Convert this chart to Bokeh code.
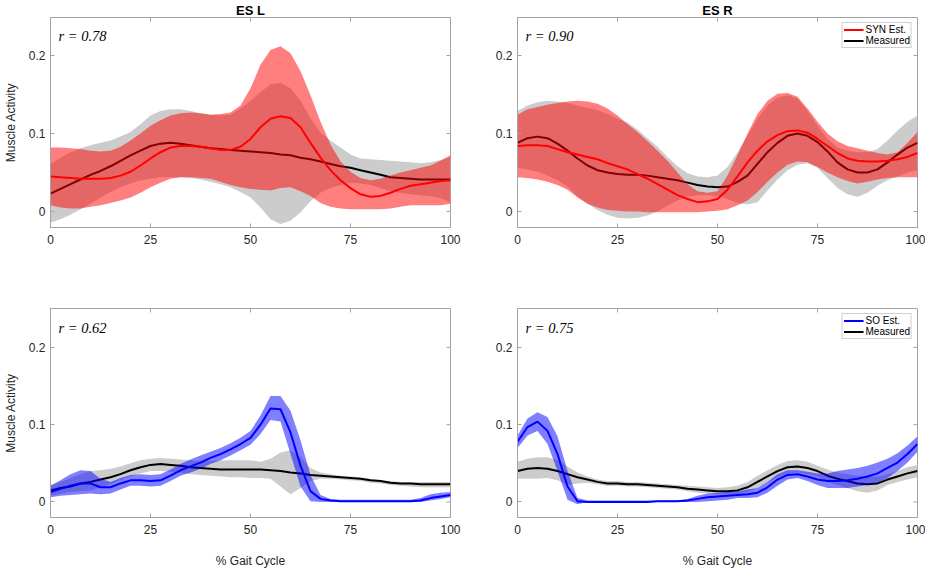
from bokeh.plotting import figure
from bokeh.models import Range1d, LinearAxis, FixedTicker, Label, Legend, LegendItem
from bokeh.layouts import column, row
from bokeh.embed import file_html
from bokeh.resources import INLINE

# ---------------- data ----------------
pct = [0, 2.5, 5, 7.5, 10, 12.5, 15, 17.5, 20, 22.5, 25, 27.5, 30, 32.5, 35, 37.5, 40,
       42.5, 45, 47.5, 50, 52.5, 55, 57.5, 60, 62.5, 65, 67.5, 70, 72.5, 75, 77.5, 80,
       82.5, 85, 87.5, 90, 92.5, 95, 97.5, 100]

x_ticks = [0, 25, 50, 75, 100]
y_ticks = [0, 0.1, 0.2]
y_tick_labels = ["0", "0.1", "0.2"]

panel_titles = ["ES L", "ES R"]
r_texts = ["r = 0.78", "r = 0.90", "r = 0.62", "r = 0.75"]
est_names = ["SYN Est.", "SO Est."]
meas_name = "Measured"

# ES L - synergy estimate
syn_l_mean = [.045, .044, .043, .042, .042, .042, .043, .046, .051, .059, .068, .076, .082, .084, .084, .083, .081,
              .079, .079, .083, .093, .108, .119, .122, .120, .108, .088, .069, .053, .040, .030, .022, .019,
              .020, .024, .029, .033, .035, .037, .039, .040]
syn_l_hi = [.082, .082, .081, .080, .078, .077, .078, .083, .091, .100, .110, .117, .123, .126, .127, .126, .124,
            .125, .127, .136, .158, .188, .207, .212, .203, .180, .149, .115, .086, .064, .051, .043, .040,
            .042, .046, .050, .053, .056, .059, .065, .072]
syn_l_lo = [.008, .005, .004, .004, .006, .008, .011, .014, .018, .024, .031, .037, .042, .044, .044, .043, .042,
            .038, .034, .031, .029, .028, .027, .030, .031, .026, .020, .011, .006, .004, .003, .003, .003,
            .003, .004, .006, .008, .008, .008, .008, .010]
# ES L - measured
meas_l_mean = [.023, .029, .035, .041, .047, .052, .058, .065, .072, .078, .084, .087, .088, .087, .085, .083, .081,
               .080, .079, .078, .077, .076, .075, .073, .072, .069, .067, .064, .061, .058, .056, .053, .050,
               .047, .044, .043, .042, .041, .041, .041, .041]
meas_l_hi = [.061, .069, .076, .081, .085, .088, .091, .096, .102, .112, .123, .129, .131, .131, .129, .126, .124,
             .123, .124, .132, .142, .153, .163, .165, .158, .142, .120, .101, .091, .082, .073, .068, .067,
             .066, .065, .064, .063, .062, .063, .066, .070]
meas_l_lo = [-.014, -.010, -.004, .003, .010, .018, .025, .031, .036, .040, .042, .044, .044, .044, .043, .041, .038,
             .035, .031, .025, .018, .005, -.010, -.016, -.012, -.001, .013, .024, .030, .034, .037, .036, .034,
             .030, .026, .024, .022, .021, .020, .017, .012]

# ES R - synergy estimate
syn_r_mean = [.084, .085, .085, .084, .080, .076, .073, .070, .067, .062, .058, .054, .048, .042, .035, .028, .021,
              .016, .012, .013, .016, .028, .045, .063, .078, .090, .098, .103, .104, .101, .093, .084, .075,
              .068, .065, .064, .064, .065, .067, .070, .075]
syn_r_hi = [.124, .131, .134, .137, .139, .141, .142, .141, .138, .132, .123, .112, .102, .090, .078, .065, .050,
            .035, .026, .024, .026, .046, .072, .100, .125, .142, .151, .152, .147, .132, .115, .100, .090,
            .084, .081, .078, .075, .073, .076, .088, .102]
syn_r_lo = [.044, .043, .041, .038, .034, .028, .018, .010, .005, .002, .001, .000, .000, -.001, -.001, -.001, -.001,
            -.001, -.001, .000, .001, .003, .008, .014, .025, .038, .050, .060, .064, .063, .057, .050, .044,
            .039, .036, .038, .041, .043, .044, .044, .044]
# ES R - measured
meas_r_mean = [.088, .094, .096, .094, .087, .078, .068, .059, .053, .050, .048, .047, .047, .046, .044, .042, .040,
               .037, .034, .032, .031, .032, .038, .046, .061, .076, .088, .097, .100, .097, .089, .077, .063,
               .054, .050, .050, .054, .063, .073, .082, .088]
meas_r_hi = [.129, .136, .140, .142, .141, .139, .136, .133, .130, .125, .119, .114, .105, .094, .083, .070, .058,
             .049, .045, .044, .046, .057, .076, .097, .119, .136, .146, .149, .145, .129, .110, .093, .082,
             .078, .076, .076, .080, .091, .104, .115, .123]
meas_r_lo = [.056, .054, .051, .046, .040, .032, .020, .010, .002, -.004, -.008, -.009, -.008, -.005, .000, .007, .014,
             .019, .021, .021, .020, .016, .011, .009, .012, .027, .041, .053, .060, .062, .056, .043, .030,
             .022, .019, .024, .033, .040, .045, .050, .053]

# ES L - static optimization estimate
so_l_mean = [.013, .017, .021, .024, .024, .019, .019, .024, .028, .028, .027, .028, .034, .041, .046, .051, .057,
             .062, .068, .075, .083, .100, .121, .120, .090, .047, .014, .004, .002, .001, .001, .001, .001,
             .001, .001, .001, .001, .002, .005, .007, .009]
so_l_hi = [.021, .028, .036, .041, .040, .030, .026, .031, .035, .036, .035, .036, .042, .049, .055, .060, .065,
           .070, .076, .083, .092, .112, .137, .137, .118, .080, .035, .009, .004, .003, .003, .003, .003,
           .003, .003, .003, .003, .005, .010, .012, .013]
so_l_lo = [.006, .008, .009, .010, .011, .010, .011, .016, .021, .021, .020, .021, .027, .034, .038, .043, .049,
           .054, .060, .067, .074, .088, .106, .104, .062, .020, .001, .000, .000, .000, .000, .000, .000,
           .000, .000, .000, .000, .000, .002, .004, .006]
# ES L - measured (SO comparison)
meas_l2_mean = [.015, .018, .020, .024, .026, .029, .032, .036, .041, .045, .048, .049, .048, .047, .045, .044, .043,
                .042, .042, .042, .042, .042, .041, .040, .038, .037, .035, .034, .033, .032, .031, .030, .028,
                .027, .025, .024, .024, .023, .023, .023, .023]
meas_l2_hi = [.022, .026, .031, .036, .040, .041, .043, .046, .050, .054, .056, .057, .056, .055, .054, .053, .053,
              .054, .054, .054, .054, .052, .056, .064, .067, .058, .044, .038, .036, .034, .033, .032, .030,
              .028, .027, .026, .026, .026, .026, .026, .026]
meas_l2_lo = [.008, .011, .013, .014, .015, .019, .023, .028, .033, .037, .040, .040, .039, .038, .036, .035, .034,
              .033, .032, .032, .031, .031, .030, .020, .010, .018, .027, .030, .030, .029, .028, .027, .025,
              .024, .022, .021, .020, .019, .019, .019, .019]

# ES R - static optimization estimate
so_r_mean = [.078, .097, .104, .092, .062, .020, .001, .000, .000, .000, .000, .000, .000, .000, .001, .001, .001,
             .002, .004, .006, .007, .008, .009, .010, .012, .019, .029, .035, .036, .033, .029, .027, .027,
             .028, .030, .033, .037, .044, .051, .062, .075]
so_r_hi = [.086, .108, .116, .110, .085, .040, .005, .002, .002, .002, .002, .002, .002, .002, .002, .002, .002,
           .004, .008, .011, .012, .013, .014, .016, .018, .026, .036, .041, .041, .039, .037, .037, .040,
           .042, .044, .047, .051, .056, .063, .073, .085]
so_r_lo = [.070, .086, .092, .075, .040, .003, -.003, .000, .000, .000, .000, .000, .000, .000, .000, .000, .000,
           .000, .000, .001, .002, .003, .005, .005, .006, .012, .021, .029, .031, .027, .022, .018, .018,
           .018, .020, .022, .025, .031, .040, .051, .065]
# ES R - measured (SO comparison)
meas_r2_mean = [.040, .043, .044, .043, .040, .036, .032, .029, .026, .024, .024, .023, .023, .022, .021, .020, .019,
                .017, .016, .015, .014, .014, .015, .019, .026, .033, .040, .045, .046, .044, .040, .034, .030,
                .027, .024, .023, .024, .029, .033, .037, .040]
meas_r2_hi = [.052, .056, .058, .058, .054, .046, .038, .033, .029, .027, .027, .026, .026, .025, .024, .023, .022,
              .021, .020, .019, .018, .019, .021, .026, .034, .041, .048, .053, .054, .052, .047, .042, .038,
              .036, .034, .033, .033, .036, .040, .045, .048]
meas_r2_lo = [.030, .030, .030, .031, .028, .022, .024, .025, .023, .021, .021, .020, .020, .019, .018, .017, .016,
              .014, .012, .011, .010, .010, .010, .013, .018, .025, .032, .037, .038, .036, .033, .026, .022,
              .018, .014, .012, .015, .022, .026, .029, .032]

# ---------------- style ----------------
FONT = "Liberation Sans"
SERIF = "Liberation Serif"
AX_C = "#a3a3a3"
TXT_C = "#262626"
GRAY_FILL = "#cccccc"
TICK_PX = 4


def style_axis(ax, ticks, overrides=None):
    ax.ticker = FixedTicker(ticks=ticks)
    ax.axis_line_color = AX_C
    ax.major_tick_line_color = AX_C
    ax.major_tick_in = TICK_PX
    ax.major_tick_out = 0
    ax.minor_tick_in = 0
    ax.minor_tick_out = 0
    ax.minor_tick_line_color = None
    ax.major_label_text_font = FONT
    ax.major_label_text_font_size = "12px"
    ax.major_label_text_color = TXT_C
    if overrides:
        ax.major_label_overrides = overrides


def make_panel(est_mean, est_lo, est_hi, meas_mean, meas_lo, meas_hi, color,
               r_text, col, top, title=None, legend_name=None):
    left = col == 0
    if left:
        width, mbl, mbr = 470, 50, 20
    else:
        width, mbl, mbr = 455, 47, 8
    if top:
        # the title row takes about 17 px above the box
        height, mbt, mbb, y_lo, y_hi = 280, 17, 53, -0.0205, 0.2487
    else:
        height, mbt, mbb, y_lo, y_hi = 290, 28, 51, -0.0201, 0.2504
    frame_w = width - mbl - mbr
    frame_h = height - mbt - mbb
    p = figure(width=width, height=height, output_backend="svg", toolbar_location=None,
               x_range=Range1d(0, 100), y_range=Range1d(y_lo, y_hi),
               min_border_left=mbl, min_border_right=mbr, min_border_top=mbt, min_border_bottom=mbb,
               x_axis_location=None, y_axis_location=None)
    p.xgrid.visible = False
    p.ygrid.visible = False
    p.outline_line_color = AX_C
    p.background_fill_color = "white"
    p.border_fill_color = "white"

    if title:
        p.title.text = title
        p.title.align = "center"
        p.title.text_font = FONT
        p.title.text_font_style = "bold"
        p.title.text_font_size = "13px"
        p.title.text_color = "black"
        p.title.standoff = 0
        p.title.offset = 0

    y_over = {t: l for t, l in zip(y_ticks, y_tick_labels)}

    xb = LinearAxis()
    style_axis(xb, x_ticks)
    xb.major_label_standoff = 7
    if not top:
        xb.axis_label = "% Gait Cycle"
        xb.axis_label_text_font = FONT
        xb.axis_label_text_font_size = "12px"
        xb.axis_label_text_font_style = "normal"
        xb.axis_label_text_color = TXT_C
        xb.axis_label_standoff = 17
    p.add_layout(xb, "below")

    yl = LinearAxis()
    style_axis(yl, y_ticks, y_over)
    yl.major_label_standoff = 5
    if left:
        yl.axis_label = "Muscle Activity"
        yl.axis_label_text_font = FONT
        yl.axis_label_text_font_size = "12px"
        yl.axis_label_text_font_style = "normal"
        yl.axis_label_text_color = TXT_C
        yl.axis_label_standoff = 8
    p.add_layout(yl, "left")

    # mirrored tick marks on the top and right edges of the box (MATLAB "box on")
    x_span = 100.0
    y_span = y_hi - y_lo
    dy = TICK_PX * y_span / frame_h
    dx = TICK_PX * x_span / frame_w
    inner_x = x_ticks[1:-1]
    p.segment(x0=inner_x, y0=[y_hi] * len(inner_x), x1=inner_x, y1=[y_hi - dy] * len(inner_x),
              line_color=AX_C, line_width=1)
    p.segment(x0=[100] * len(y_ticks), y0=y_ticks, x1=[100 - dx] * len(y_ticks), y1=y_ticks,
              line_color=AX_C, line_width=1)

    # bands and lines
    p.varea(x=pct, y1=meas_lo, y2=meas_hi, fill_color=GRAY_FILL, fill_alpha=1.0)
    meas_line = p.line(pct, meas_mean, line_color="black", line_width=2)
    p.varea(x=pct, y1=est_lo, y2=est_hi, fill_color=color, fill_alpha=0.5)
    est_line = p.line(pct, est_mean, line_color=color, line_width=2)

    p.add_layout(Label(x=2, y=0.2255, text=r_text, text_font=SERIF, text_font_style="italic",
                       text_font_size="14.5px", text_color="black", text_baseline="alphabetic"))

    if legend_name:
        leg = Legend(items=[LegendItem(label=legend_name, renderers=[est_line]),
                            LegendItem(label=meas_name, renderers=[meas_line])],
                     location="top_right", margin=5, padding=1, spacing=0,
                     glyph_width=20, glyph_height=11, label_height=11, label_standoff=2,
                     label_text_font=FONT, label_text_font_size="10px", label_text_color="black",
                     border_line_color="#a0a0a0", border_line_width=1,
                     background_fill_color="white", background_fill_alpha=1.0)
        p.add_layout(leg)
    return p


p1 = make_panel(syn_l_mean, syn_l_lo, syn_l_hi, meas_l_mean, meas_l_lo, meas_l_hi, "red",
                r_texts[0], 0, True, title=panel_titles[0])
p2 = make_panel(syn_r_mean, syn_r_lo, syn_r_hi, meas_r_mean, meas_r_lo, meas_r_hi, "red",
                r_texts[1], 1, True, title=panel_titles[1], legend_name=est_names[0])
p3 = make_panel(so_l_mean, so_l_lo, so_l_hi, meas_l2_mean, meas_l2_lo, meas_l2_hi, "blue",
                r_texts[2], 0, False)
p4 = make_panel(so_r_mean, so_r_lo, so_r_hi, meas_r2_mean, meas_r2_lo, meas_r2_hi, "blue",
                r_texts[3], 1, False, legend_name=est_names[1])

layout = column(row(p1, p2, spacing=0), row(p3, p4, spacing=0), spacing=0)

open("out.html", "w").write(file_html(layout, INLINE))
